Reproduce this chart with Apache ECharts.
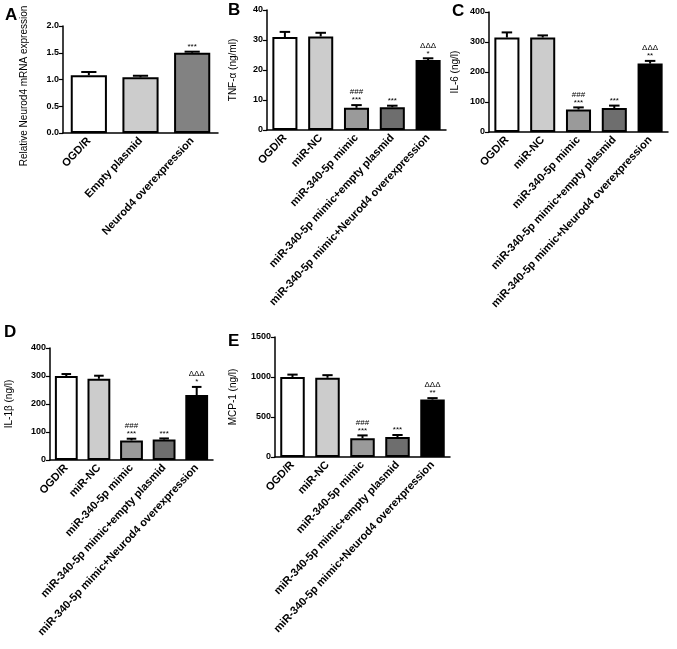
<!DOCTYPE html>
<html><head><meta charset="utf-8">
<script src="https://cdn.jsdelivr.net/npm/echarts@6/dist/echarts.min.js"></script>
<style>html,body{margin:0;padding:0;background:#fff}#c{width:677px;height:649px}</style>
</head><body><div id="c"></div>
<script>
const catA = ['OGD/R', 'Empty plasmid', 'Neurod4 overexpression'];
const catB = ['OGD/R', 'miR-NC', 'miR-340-5p mimic', 'miR-340-5p mimic+empty plasmid', 'miR-340-5p mimic+Neurod4 overexpression'];

const valA = [1.08, 1.04, 1.50];
const errA = [0.06, 0.03, 0.02];
const sigA = ['', '', '***'];

const valB = [31.0, 31.2, 7.4, 7.6, 23.3];
const errB = [1.7, 1.2, 0.9, 0.5, 0.6];
const sigB = ['', '', '###\n***', '***', 'ΔΔΔ\n*'];

const valC = [315, 315, 75, 80, 228];
const errC = [17, 7, 7, 8, 9];
const sigC = ['', '', '###\n***', '***', 'ΔΔΔ\n**'];

const valD = [300, 290, 70, 73, 232];
const errD = [7, 11, 6, 4, 29];
const sigD = ['', '', '###\n***', '***', 'ΔΔΔ\n*'];

const valE = [1000, 990, 235, 250, 718];
const errE = [30, 33, 35, 25, 18];
const sigE = ['', '', '###\n***', '***', 'ΔΔΔ\n**'];

const colorsA = ['#ffffff', '#cccccc', '#828282'];
const colorsB = ['#ffffff', '#cccccc', '#9a9a9a', '#6e6e6e', '#000000'];

const panels = [
  {letter: 'A', cats: catA, vals: valA, errs: errA, sigs: sigA, colors: colorsA, name: 'Relative Neurod4 mRNA expression', max: 2, interval: 0.5, dec: 1,
   grid: {left: 63, top: 26, width: 155, height: 107}, nameGap: 38, lx: 5, ly: 7, graphicName: true},
  {letter: 'B', cats: catB, vals: valB, errs: errB, sigs: sigB, colors: colorsB, name: 'TNF-α (ng/ml)', max: 40, interval: 10, dec: 0,
   grid: {left: 267, top: 10, width: 179, height: 120}, nameGap: 29, lx: 228, ly: 2},
  {letter: 'C', cats: catB, vals: valC, errs: errC, sigs: sigC, colors: colorsB, name: 'IL-6 (ng/l)', max: 400, interval: 100, dec: 0,
   grid: {left: 489, top: 12, width: 179, height: 120}, nameGap: 29, lx: 452, ly: 3},
  {letter: 'D', cats: catB, vals: valD, errs: errD, sigs: sigD, colors: colorsB, name: 'IL-1β (ng/l)', max: 400, interval: 100, dec: 0,
   grid: {left: 50, top: 348, width: 163, height: 112}, nameGap: 36, lx: 4, ly: 324},
  {letter: 'E', cats: catB, vals: valE, errs: errE, sigs: sigE, colors: colorsB, name: 'MCP-1 (ng/l)', max: 1500, interval: 500, dec: 0,
   grid: {left: 275, top: 337, width: 175, height: 120}, nameGap: 37, lx: 228, ly: 333}
];

const FONT = 'Liberation Sans, Arial, sans-serif';
const grids = [], xAxes = [], yAxes = [], series = [], titles = [], graphics = [];

panels.forEach((p, k) => {
  grids.push(Object.assign({containLabel: false}, p.grid));
  titles.push({text: p.letter, left: p.lx, top: p.ly, padding: 0,
    textStyle: {fontFamily: FONT, fontSize: 17, fontWeight: 'bold', color: '#000'}});
  if (p.graphicName) {
    graphics.push({type: 'text', x: 24, y: 86, rotation: Math.PI / 2,
      style: {text: p.name, fill: '#000', fontFamily: FONT, fontSize: 10, align: 'center', verticalAlign: 'middle'}});
  }
  xAxes.push({
    type: 'category', gridIndex: k, data: p.cats,
    axisLine: {lineStyle: {color: '#000', width: 1.5}},
    axisTick: {alignWithLabel: true, length: 4, lineStyle: {color: '#000', width: 1.2}},
    axisLabel: {rotate: 47, interval: 0, margin: 6, color: '#000', fontFamily: FONT, fontSize: 11, fontWeight: 'bold'}
  });
  yAxes.push({
    type: 'value', gridIndex: k, min: 0, max: p.max, interval: p.interval,
    name: p.graphicName ? '' : p.name, nameLocation: 'middle', nameGap: p.nameGap,
    nameTextStyle: {fontFamily: FONT, fontSize: 10, color: '#000'},
    splitLine: {show: false},
    axisLine: {show: true, lineStyle: {color: '#000', width: 1.5}},
    axisTick: {show: true, length: 4, lineStyle: {color: '#000', width: 1.2}},
    axisLabel: {margin: 4, color: '#000', fontFamily: FONT, fontSize: 9, fontWeight: 'bold',
      formatter: v => v.toFixed(p.dec)}
  });
  series.push({
    type: 'bar', xAxisIndex: k, yAxisIndex: k, barWidth: '70%', silent: true,
    data: p.vals.map((v, i) => ({value: v, itemStyle: {color: p.colors[i]}})),
    itemStyle: {borderColor: '#000', borderWidth: 2}
  });
  series.push({
    type: 'custom', xAxisIndex: k, yAxisIndex: k, silent: true, z: 3,
    data: p.vals.map((v, i) => [i, v, p.errs[i]]),
    renderItem: (params, api) => {
      const i = api.value(0), v = api.value(1), e = api.value(2);
      const b = api.coord([i, v]);
      const t = api.coord([i, v + e]);
      const bw = api.size([1, 0])[0] * 0.7;
      const cw = bw * 0.21;
      const sig = p.sigs[params.dataIndex];
      const ch = [
        {type: 'line', shape: {x1: b[0], y1: b[1], x2: t[0], y2: t[1]}, style: {stroke: '#000', lineWidth: 2}},
        {type: 'line', shape: {x1: t[0] - cw, y1: t[1], x2: t[0] + cw, y2: t[1]}, style: {stroke: '#000', lineWidth: 2}}
      ];
      if (sig) {
        ch.push({type: 'text', x: t[0], y: t[1] - 1,
          style: {text: sig, fill: '#000', fontFamily: FONT, fontSize: 8, lineHeight: 8,
            align: 'center', verticalAlign: 'bottom'}});
      }
      return {type: 'group', children: ch};
    }
  });
});

const chart = echarts.init(document.getElementById('c'), null, {renderer: 'canvas'});
chart.setOption({
  backgroundColor: '#fff',
  animation: false,
  title: titles,
  graphic: graphics,
  grid: grids,
  xAxis: xAxes,
  yAxis: yAxes,
  series: series
});
</script>
</body></html>
